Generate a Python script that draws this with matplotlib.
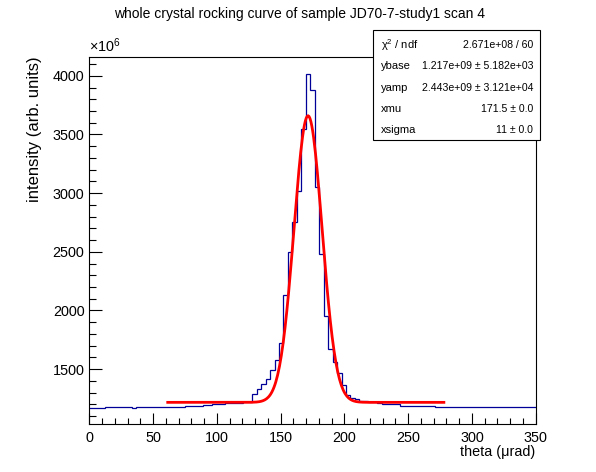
import numpy as np
import matplotlib
matplotlib.use("Agg")
import matplotlib.pyplot as plt
from matplotlib.ticker import MultipleLocator
from matplotlib.patches import Rectangle

plt.rcParams['font.family'] = ['Liberation Sans', 'DejaVu Sans']
plt.rcParams['mathtext.fontset'] = 'custom'
plt.rcParams['mathtext.rm'] = 'Liberation Sans'
plt.rcParams['mathtext.it'] = 'Liberation Sans:italic'

# ---- data (intensity in units of 1e6) ----
scan_step = 3.5            # bin width (urad), bins centred on 0, 3.5, ..., 350
counts = (
    [1170] * 4 + [1177] * 6 + [1170] + [1180] * 11 + [1189] * 4 + [1197] * 2 +
    [1206] * 3 + [1214] * 4 + [1223] * 2 +
    [1290, 1330, 1375, 1415, 1494, 1579, 1721, 2130, 2502, 2752, 3019, 3544,
     4015, 3876, 3050, 2479, 1954, 1673, 1559, 1466, 1366, 1281, 1253, 1244,
     1232, 1228, 1222, 1220, 1210] +
    [1205] * 4 + [1190] * 8 + [1178] * 23
)
fit_range = [61.5, 278.0]
ybase = 1217.0   # 1.217e+09
yamp = 2443.0    # 2.443e+09
xmu = 171.5
xsigma = 11.0

stat_labels = ["χ$^{2}$ / ndf", "ybase", "yamp", "xmu", "xsigma"]
stat_values = ["2.671e+08 / 60", "1.217e+09 ± 5.182e+03",
               "2.443e+09 ± 3.121e+04", "171.5 ± 0.0", "11 ± 0.0"]

title = "whole crystal rocking curve of sample JD70-7-study1 scan 4"
xlabel = "theta (μrad)"
ylabel = "intensity (arb. units)"

# ---- figure ----
W, H = 596, 472
fig = plt.figure(figsize=(W / 100, H / 100), dpi=100)
L, R, T, B = 89.3, 535.7, 56.7, 424.3
ax = fig.add_axes([L / W, (H - B) / H, (R - L) / W, (B - T) / H])

n = len(counts)
edges = (np.arange(n + 1) - 0.5) * scan_step
ax.stairs(counts, edges, color='#000099', lw=0.9, baseline=None)

xf = np.linspace(fit_range[0], fit_range[1], 300)
yf = ybase + yamp * np.exp(-0.5 * ((xf - xmu) / xsigma) ** 2)
ax.plot(xf, yf, color='#ff0000', lw=2.0)

ax.set_xlim(0, 350)
ax.set_ylim(1030, 4163)

ax.xaxis.set_major_locator(MultipleLocator(50))
ax.xaxis.set_minor_locator(MultipleLocator(10))
ax.yaxis.set_major_locator(MultipleLocator(500))
ax.yaxis.set_minor_locator(MultipleLocator(100))

fs = 10.4
ax.tick_params(which='both', direction='in', top=False, right=False,
               labelsize=fs, width=0.8)
ax.xaxis.set_tick_params(which='major', length=8, pad=5)
ax.xaxis.set_tick_params(which='minor', length=4)
ax.yaxis.set_tick_params(which='major', length=9.6, pad=3.5)
ax.yaxis.set_tick_params(which='minor', length=4.8)
for s in ax.spines.values():
    s.set_linewidth(0.8)

ax.set_xlabel(xlabel, fontsize=fs, loc='right')
ax.xaxis.set_label_coords(1.0, -0.055)
ax.set_ylabel(ylabel, fontsize=12.0, loc='top')
ax.yaxis.set_label_coords(-0.105, 1.0)

ax.text(0.0, 1.005, "×10$^{6}$", transform=ax.transAxes, fontsize=fs,
        ha='left', va='bottom')

fig.text(300 / W, 1 - 14 / H, title, fontsize=10.0, ha='center', va='center')

# stats box
bx0, bx1, by0, by1 = 373, 540, 30, 140
fig.patches.append(Rectangle((bx0 / W, 1 - by1 / H), (bx1 - bx0) / W,
                             (by1 - by0) / H, transform=fig.transFigure,
                             facecolor='white', edgecolor='black', lw=0.8,
                             zorder=5))
rows = [45, 66, 88, 109, 130]
for lab, val, ry in zip(stat_labels, stat_values, rows):
    fig.text(381 / W, 1 - ry / H, lab, fontsize=8.0, ha='left', va='center',
             zorder=6)
    fig.text(533 / W, 1 - ry / H, val, fontsize=7.6, ha='right', va='center',
             zorder=6)

fig.savefig("out.png", dpi=100)
